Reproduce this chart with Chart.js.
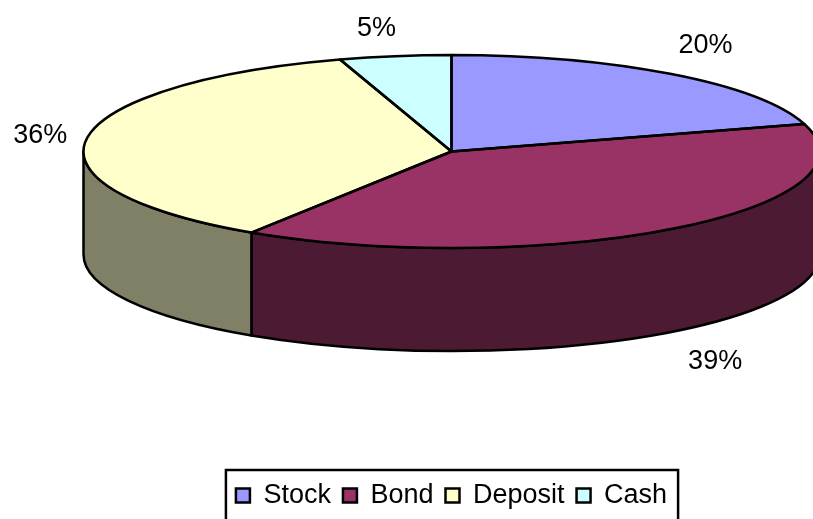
<!DOCTYPE html>
<html>
<head>
<meta charset="utf-8">
<style>html,body{margin:0;padding:0;background:#fff}#wrap{width:813px;height:519px;position:relative;overflow:hidden}</style>
<script src="https://cdn.jsdelivr.net/npm/chart.js@4"></script>
</head>
<body>
<div id="wrap"><canvas id="c" width="813" height="519"></canvas></div>
<script>
const categories = ['Stock', 'Bond', 'Deposit', 'Cash'];
const shareValues = [20.4, 38.75, 35.95, 4.9];
const shownLabels = ['20%', '39%', '36%', '5%'];
const topColors = ['#9999FF', '#993366', '#FFFFCC', '#CCFFFF'];
const sideColors = ['#4D4D80', '#4D1A33', '#808066', '#668080'];

const FONT = '"Liberation Sans", Arial, sans-serif';
const view = { centerY: 151.5, squash: 0.2625, depth: 103, lineWidth: 2.5 };
const labelRing = { rx: 430, ry: 132 };
const labelNudgeX = [-3, 6, 15, -9];
const labelNudgeY = [0, 1, 2, 7];

function squashedPath(ctx, x, y, r, a1, a2, ccw) {
  ctx.ellipse(x, y, r, r * view.squash, 0, a1, a2, ccw);
}

const pie3d = {
  id: 'pie3d',
  beforeDatasetsDraw(chart) {
    const ctx = chart.ctx;
    const arcs = chart.getDatasetMeta(0).data;
    const cy = view.centerY, d = view.depth;
    ctx.save();
    ctx.lineWidth = view.lineWidth;
    ctx.strokeStyle = '#000';
    ctx.lineJoin = 'round';
    arcs.forEach((a, i) => {
      const from = Math.max(a.startAngle, 0), to = Math.min(a.endAngle, Math.PI);
      if (to <= from) return;
      ctx.beginPath();
      squashedPath(ctx, a.x, cy, a.outerRadius, from, to, false);
      squashedPath(ctx, a.x, cy + d, a.outerRadius, to, from, true);
      ctx.closePath();
      ctx.fillStyle = sideColors[i];
      ctx.fill();
      ctx.stroke();
    });
    ctx.restore();
    const first = arcs[0];
    ctx.save();
    ctx.translate(first.x, cy);
    ctx.scale(1, view.squash);
    ctx.translate(-first.x, -first.y);
  },
  afterDatasetsDraw(chart) {
    const ctx = chart.ctx;
    ctx.restore();
    const arcs = chart.getDatasetMeta(0).data;
    const cy = view.centerY;
    ctx.save();
    ctx.lineWidth = view.lineWidth;
    ctx.strokeStyle = '#000';
    ctx.lineJoin = 'round';
    arcs.forEach(a => {
      ctx.beginPath();
      ctx.moveTo(a.x, cy);
      squashedPath(ctx, a.x, cy, a.outerRadius, a.startAngle, a.endAngle, false);
      ctx.closePath();
      ctx.stroke();
    });
    ctx.fillStyle = '#000';
    ctx.font = '27px ' + FONT;
    ctx.textAlign = 'center';
    ctx.textBaseline = 'middle';
    arcs.forEach((a, i) => {
      const mid = (a.startAngle + a.endAngle) / 2;
      const cos = Math.cos(mid), sin = Math.sin(mid);
      const drop = sin > 0 ? view.depth : 0;
      const x = a.x + labelRing.rx * cos + labelNudgeX[i];
      const y = cy + drop + labelRing.ry * sin + labelNudgeY[i];
      ctx.fillText(shownLabels[i], x, y);
    });
    ctx.restore();
  },
  afterDraw(chart) {
    const boxes = chart.legend.legendHitBoxes;
    const ctx = chart.ctx;
    const left = Math.min(...boxes.map(b => b.left));
    const right = Math.max(...boxes.map(b => b.left + b.width));
    const top = Math.min(...boxes.map(b => b.top));
    ctx.save();
    ctx.lineWidth = 2.5;
    ctx.strokeStyle = '#000';
    ctx.strokeRect(left - 10, top - 12, right - left + 21, chart.height);
    ctx.restore();
  }
};

new Chart(document.getElementById('c'), {
  type: 'pie',
  data: {
    labels: categories,
    datasets: [{
      data: shareValues,
      backgroundColor: topColors,
      borderWidth: 0,
      radius: 368,
      clip: false
    }]
  },
  options: {
    responsive: false,
    animation: false,
    events: [],
    layout: { padding: { left: 90, right: 0, top: 0, bottom: 0 } },
    plugins: {
      tooltip: { enabled: false },
      title: { display: false },
      legend: {
        display: true,
        position: 'bottom',
        labels: {
          font: { family: FONT, size: 27 },
          color: '#000',
          boxWidth: 14,
          boxHeight: 14,
          padding: 12,
          generateLabels(chart) {
            return chart.data.labels.map((t, i) => ({
              text: t,
              fillStyle: topColors[i],
              strokeStyle: '#000',
              lineWidth: 2.5,
              index: i,
              hidden: false
            }));
          }
        }
      }
    }
  },
  plugins: [pie3d]
});
</script>
</body>
</html>
